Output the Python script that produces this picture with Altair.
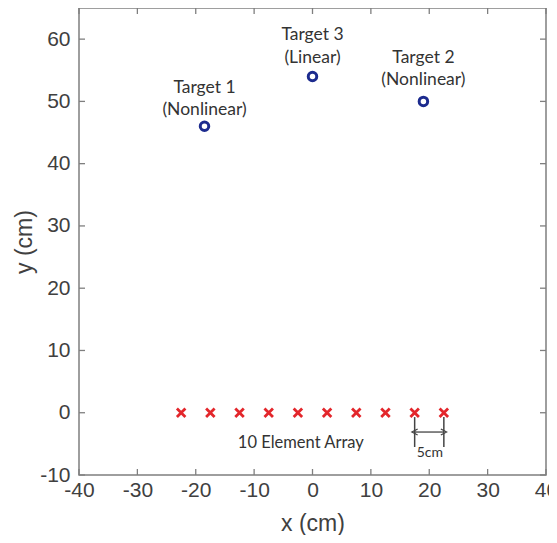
import altair as alt
import pandas as pd

# ---- data ----
array_x = [-22.5, -17.5, -12.5, -7.5, -2.5, 2.5, 7.5, 12.5, 17.5, 22.5]
array_y = [0, 0, 0, 0, 0, 0, 0, 0, 0, 0]
target_x = [-18.5, 19, 0]
target_y = [46, 50, 54]
target_name = ["Target 1", "Target 2", "Target 3"]
target_kind = ["(Nonlinear)", "(Nonlinear)", "(Linear)"]
name_label_y = [52.2, 57.05, 60.6]
kind_label_y = [48.65, 53.5, 57.05]
x_ticks = [-40, -30, -20, -10, 0, 10, 20, 30, 40]
y_ticks = [-10, 0, 10, 20, 30, 40, 50, 60]
x_domain = [-40, 40]
y_domain = [-10, 65]
array_label = "10 Element Array"
array_label_pos = [-2, -4.9]
spacing_label = "5cm"
spacing_x = [17.5, 22.5]
spacing_bracket_y = [-0.7, -5.5]
spacing_arrow_y = -3.1
spacing_label_pos = [20.1, -6.4]

xs = alt.Scale(domain=x_domain, nice=False, zero=False)
ys = alt.Scale(domain=y_domain, nice=False, zero=False)
x_axis = alt.Axis(values=x_ticks, title="x (cm)", titleY=55, titleBaseline="alphabetic",
                  labelExpr="'' + datum.value", labelFlush=False)
y_axis = alt.Axis(values=y_ticks, title="y (cm)", titleX=-55, titleBaseline="middle",
                  labelExpr="'' + datum.value", labelFlush=False)

arr = pd.DataFrame({"x": array_x, "y": array_y})
tg = pd.DataFrame({"x": target_x, "y": target_y, "name": target_name, "kind": target_kind,
                   "ny": name_label_y, "ky": kind_label_y})
xt = pd.DataFrame({"x": x_ticks, "yb": [y_domain[0]] * len(x_ticks), "yt": [y_domain[1]] * len(x_ticks)})
yt = pd.DataFrame({"y": y_ticks, "xl": [x_domain[0]] * len(y_ticks), "xr": [x_domain[1]] * len(y_ticks)})


def X(f):
    return alt.X(f, type="quantitative", scale=xs, axis=x_axis)


def Y(f):
    return alt.Y(f, type="quantitative", scale=ys, axis=y_axis)


crosses = alt.Chart(arr).mark_point(
    shape="M-1,-1L1,1M-1,1L1,-1", size=72, strokeWidth=2.8, color="#e3262b", filled=False, opacity=1
).encode(x=X("x"), y=Y("y"))

targets = alt.Chart(tg).mark_point(
    shape="circle", size=72, strokeWidth=3, color="#1c2b8e", filled=False, opacity=1
).encode(x=X("x"), y=Y("y"))

tname = alt.Chart(tg).mark_text(
    font="Lato", fontSize=17.5, color="#333333", baseline="middle"
).encode(x=X("x"), y=Y("ny"), text="name:N")
tkind = alt.Chart(tg).mark_text(
    font="Lato", fontSize=17.5, color="#333333", baseline="middle"
).encode(x=X("x"), y=Y("ky"), text="kind:N")

alabel = alt.Chart(pd.DataFrame({"x": [array_label_pos[0]], "y": [array_label_pos[1]], "t": [array_label]})).mark_text(
    font="Lato", fontSize=16.5, color="#333333"
).encode(x=X("x"), y=Y("y"), text="t:N")

slabel = alt.Chart(pd.DataFrame({"x": [spacing_label_pos[0]], "y": [spacing_label_pos[1]], "t": [spacing_label]})).mark_text(
    font="Lato", fontSize=14, color="#333333"
).encode(x=X("x"), y=Y("y"), text="t:N")

bracket = alt.Chart(pd.DataFrame({"x": spacing_x, "y1": [spacing_bracket_y[0]] * 2, "y2": [spacing_bracket_y[1]] * 2})).mark_rule(
    color="#444444", strokeWidth=1.5
).encode(x=X("x"), y=Y("y1"), y2="y2")

arrow_line = alt.Chart(pd.DataFrame({"x1": [spacing_x[0]], "x2": [spacing_x[1]], "y": [spacing_arrow_y]})).mark_rule(
    color="#444444", strokeWidth=1.3
).encode(x=X("x1"), x2="x2", y=Y("y"))

heads = alt.Chart(pd.DataFrame({"x": spacing_x, "y": [spacing_arrow_y] * 2, "d": ["l", "r"]})).mark_point(
    filled=False, size=36, strokeWidth=1.3, color="#444444", opacity=1
).encode(x=X("x"), y=Y("y"),
         shape=alt.Shape("d:N", scale=alt.Scale(domain=["l", "r"], range=["M1,-1L-0.9,0L1,1", "M-1,-1L0.9,0L-1,1"]), legend=None))

tick_col = "#7f7f7f"
tb = alt.Chart(xt).mark_tick(orient="vertical", size=6, thickness=1.3, color=tick_col, yOffset=-3, opacity=1).encode(x=X("x"), y=Y("yb"))
tt = alt.Chart(xt).mark_tick(orient="vertical", size=6, thickness=1.3, color=tick_col, yOffset=3, opacity=1).encode(x=X("x"), y=Y("yt"))
tl = alt.Chart(yt).mark_tick(orient="horizontal", size=6, thickness=1.3, color=tick_col, xOffset=3, opacity=1).encode(x=X("xl"), y=Y("y"))
tr = alt.Chart(yt).mark_tick(orient="horizontal", size=6, thickness=1.3, color=tick_col, xOffset=-3, opacity=1).encode(x=X("xr"), y=Y("y"))

chart = alt.layer(crosses, tb, tt, tl, tr, bracket, arrow_line, heads, targets, tname, tkind, alabel, slabel).properties(
    width=467, height=467,
    autosize=alt.AutoSizeParams(type="none"),
    padding={"left": 71, "top": 0, "right": 3, "bottom": 60},
).configure_view(stroke="#7f7f7f", strokeWidth=1.5).configure_axis(
    domain=False, ticks=False, grid=False,
    labelFont="Liberation Sans", labelFontSize=21, labelColor="#404040",
    titleFont="Liberation Sans", titleFontSize=23, titleColor="#404040", titleFontWeight="normal",
).configure_axisX(labelPadding=4).configure_axisY(labelPadding=9)

chart.save("out.html", embed_options={"renderer": "svg", "actions": False})
